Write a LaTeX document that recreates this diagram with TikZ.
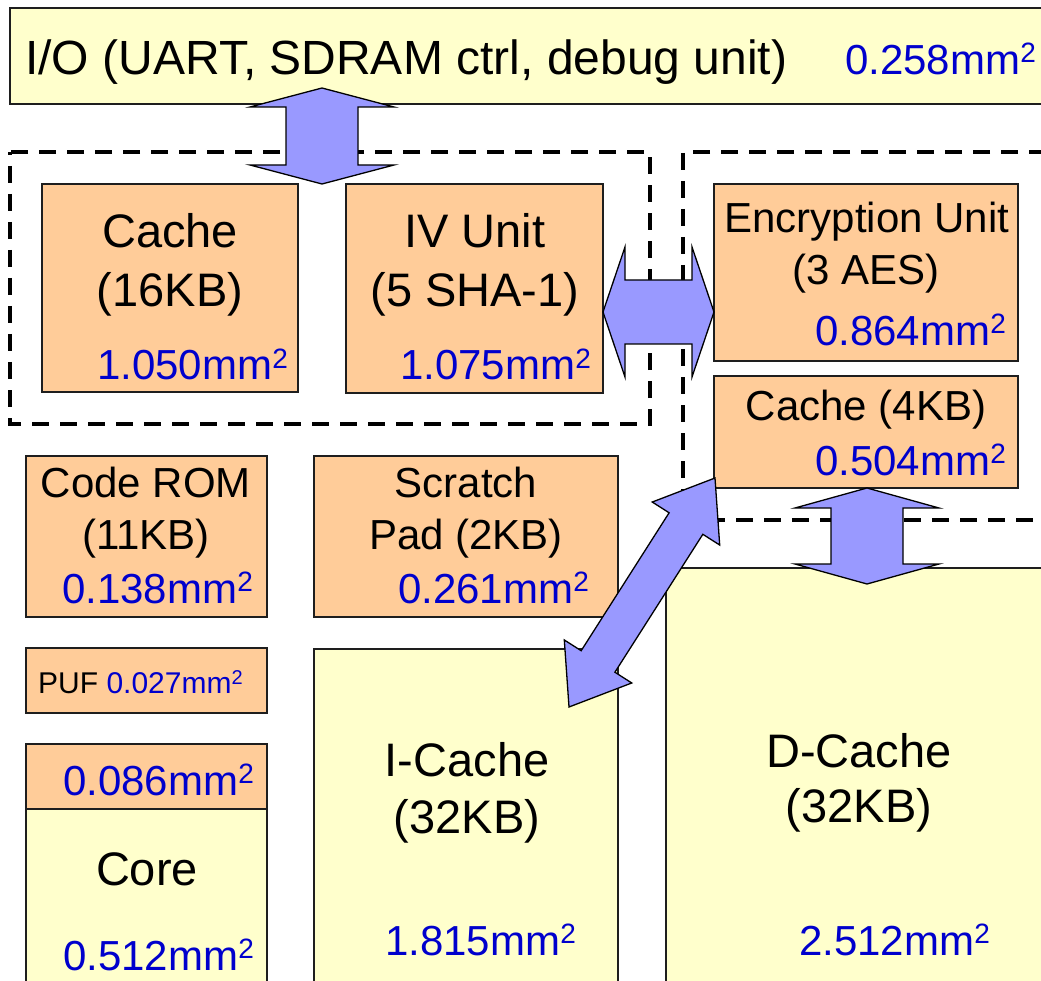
\documentclass[tikz,border=0pt]{standalone}
\usepackage{fontspec}
\setmainfont{Liberation Sans}
\usetikzlibrary{calc}
\definecolor{boxorange}{RGB}{255,204,153}
\definecolor{boxyellow}{RGB}{255,255,204}
\definecolor{arrowblue}{RGB}{153,153,255}
\definecolor{areablue}{RGB}{0,0,204}
\definecolor{edgegray}{RGB}{30,30,30}
\newcommand{\areaL}[1]{\textcolor{areablue}{\fontsize{42}{42}\selectfont #1mm\raisebox{12pt}{\fontsize{28}{28}\selectfont 2}}}
\newcommand{\areaS}[1]{\textcolor{areablue}{\fontsize{30}{30}\selectfont #1mm\raisebox{9pt}{\fontsize{20}{20}\selectfont 2}}}
% block double arrow: start, end, head length, head half width, shaft half width
\newcommand{\dblblock}[5]{%
  \path (#1) coordinate (ba-s) (#2) coordinate (ba-e);
  \path ($(ba-s)!#3!(ba-e)$) coordinate (ba-h1) ($(ba-e)!#3!(ba-s)$) coordinate (ba-h2);
  \draw[blockarr] (ba-s) -- ($(ba-h1)!#4!90:(ba-e)$) -- ($(ba-h1)!#5!90:(ba-e)$)
    -- ($(ba-h2)!#5!-90:(ba-s)$) -- ($(ba-h2)!#4!-90:(ba-s)$) -- (ba-e)
    -- ($(ba-h2)!#4!90:(ba-s)$) -- ($(ba-h2)!#5!90:(ba-s)$)
    -- ($(ba-h1)!#5!-90:(ba-e)$) -- ($(ba-h1)!#4!-90:(ba-e)$) -- cycle;
}
\tikzset{
  unitbox/.style={draw=edgegray, line width=1.2pt, inner sep=0pt, outer sep=0pt, rectangle, anchor=north west},
  obox/.style={unitbox, fill=boxorange},
  ybox/.style={unitbox, fill=boxyellow},
  bigtxt/.style={inner sep=0pt, font=\fontsize{47}{47}\selectfont, anchor=base},
  midtxt/.style={inner sep=0pt, font=\fontsize{42}{42}\selectfont, anchor=base},
  areatxt/.style={inner sep=0pt, anchor=base west},
  region/.style={draw=black, line width=4pt, dash pattern=on 17pt off 11pt, dash phase=14pt},
  blockarr/.style={fill=arrowblue, draw=black, line width=1.3pt, line join=miter},
}
\begin{document}
\begin{tikzpicture}[x=1pt,y=-1pt]
\useasboundingbox (0,0) rectangle (1041,981);
\clip (0,0) rectangle (1041,981);
\fill[white] (0,0) rectangle (1041,981);

% boxes
\node[ybox, minimum width=1040pt, minimum height=96pt] (io) at (10,8) {};
\node[obox, minimum width=256pt, minimum height=208pt] (cache) at (42,184) {};
\node[obox, minimum width=257pt, minimum height=209pt] (iv) at (346,184) {};
\node[obox, minimum width=304pt, minimum height=177pt] (enc) at (714,184) {};
\node[obox, minimum width=304pt, minimum height=112pt] (cfour) at (714,376) {};
\node[obox, minimum width=241pt, minimum height=161pt] (rom) at (26,456) {};
\node[obox, minimum width=304pt, minimum height=161pt] (scratch) at (314,456) {};
\node[obox, minimum width=241pt, minimum height=65pt] (puf) at (26,648) {};
\node[obox, minimum width=241pt, minimum height=65pt] (coretop) at (26,744) {};
\node[ybox, minimum width=241pt, minimum height=191pt] (core) at (26,809) {};
\node[ybox, minimum width=304pt, minimum height=351pt] (icache) at (314,649) {};
\node[ybox, minimum width=384pt, minimum height=432pt] (dcache) at (666,568) {};

% texts
\node[inner sep=0pt, anchor=base west, font=\fontsize{48}{48}\selectfont] (ioT) at (25,75) {I/O (UART, SDRAM ctrl, debug unit)};
\node[areatxt] (ioA) at (845,75) {\areaL{0.258}};

\node[bigtxt] (cacheT1) at (170,248) {Cache};
\node[bigtxt] (cacheT2) at (170,307) {(16KB)};
\node[areatxt] (cacheA) at (97,380) {\areaL{1.050}};

\node[bigtxt] (ivT1) at (475,248) {IV Unit};
\node[bigtxt] (ivT2) at (475,307) {(5 SHA-1)};
\node[areatxt] (ivA) at (400,380) {\areaL{1.075}};

\node[midtxt] (encT1) at (867,233) {Encryption Unit};
\node[midtxt] (encT2) at (866,285) {(3 AES)};
\node[areatxt] (encA) at (815,345) {\areaL{0.864}};

\node[midtxt] (cfourT) at (866,420) {Cache (4KB)};
\node[areatxt] (cfourA) at (815,475) {\areaL{0.504}};

\node[midtxt] (romT1) at (146,497) {Code ROM};
\node[midtxt] (romT2) at (146,549) {(11KB)};
\node[areatxt] (romA) at (62,603) {\areaL{0.138}};

\node[midtxt] (scrT1) at (466,497) {Scratch};
\node[midtxt] (scrT2) at (466,549) {Pad (2KB)};
\node[areatxt] (scrA) at (398,603) {\areaL{0.261}};

\node[areatxt] (pufT) at (38,693) {\fontsize{30}{30}\selectfont PUF \areaS{0.027}};

\node[areatxt] (coretopA) at (63,795) {\areaL{0.086}};
\node[bigtxt] (coreT) at (147,885) {Core};
\node[areatxt] (coreA) at (63,970) {\areaL{0.512}};

\node[bigtxt] (icT1) at (467,776) {I-Cache};
\node[bigtxt] (icT2) at (467,833) {(32KB)};
\node[areatxt] (icA) at (385,955) {\areaL{1.815}};

\node[bigtxt] (dcT1) at (859,767) {D-Cache};
\node[bigtxt] (dcT2) at (859,822) {(32KB)};
\node[areatxt] (dcA) at (799,955) {\areaL{2.512}};

% dashed regions
\draw[region] (10,152) rectangle (650,424);
\draw[region] (1060,152) -- (683,152) -- (683,520) -- (1060,520);

% connector end points
\coordinate (a1e) at ($(cache.north east)!0.5!(iv.north west)$);
\coordinate (a1s) at ($(a1e)+(0,-96)$);
\coordinate (a2s) at ($(iv.east)+(0,23.5)$);
\coordinate (a2e) at ($(enc.west)+(0,39.5)$);
\coordinate (a3s) at ($(cfour.south west)+(1,-10)$);
\coordinate (a3e) at ($(icache.north east)+(-49,58)$);
\coordinate (a4s) at ($(cfour.south)+(1,0)$);
\coordinate (a4e) at ($(a4s)+(0,96)$);

% block arrows
\dblblock{a1s}{a1e}{19pt}{72pt}{36pt}
\dblblock{a2s}{a2e}{22pt}{65pt}{32pt}
\dblblock{a3s}{a3e}{54pt}{40pt}{20pt}
\dblblock{a4s}{a4e}{20pt}{72pt}{36pt}
\end{tikzpicture}
\end{document}
